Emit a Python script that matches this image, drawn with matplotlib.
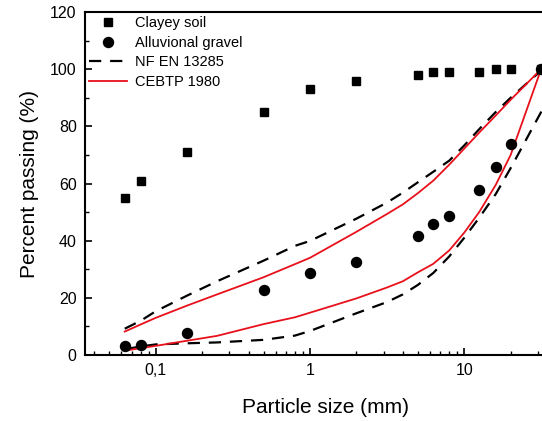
import matplotlib
matplotlib.use("Agg")
import matplotlib.pyplot as plt
from matplotlib.ticker import FixedLocator, NullFormatter, MultipleLocator, LogLocator

plt.rcParams['font.family'] = ['Liberation Sans', 'DejaVu Sans']

# Sieve sizes (mm)
clay_x = [0.063, 0.08, 0.16, 0.5, 1, 2, 5, 6.3, 8, 12.5, 16, 20, 31.5]
clay_y = [55, 61, 71, 85, 93, 96, 98, 99, 99, 99, 100, 100, 100]

grav_x = [0.063, 0.08, 0.16, 0.5, 1, 2, 5, 6.3, 8, 12.5, 16, 20, 31.5]
grav_y = [3.2, 3.6, 7.8, 22.8, 28.8, 32.6, 41.8, 45.8, 48.8, 57.8, 65.8, 73.8, 100]

env_x = [0.063, 0.08, 0.1, 0.16, 0.25, 0.5, 0.8, 1, 2, 3.15, 4, 5, 6.3, 8, 10, 12.5, 16, 20, 31.5]
nf_upper = [9.2, 12, 15.3, 20.8, 25.8, 33, 38.2, 39.9, 47.7, 53.3, 56.8, 60.4, 64.1, 68, 73.3, 79, 85, 90, 99.5]
ce_upper = [8.2, 10.7, 13.0, 17.3, 21.2, 27.2, 31.8, 34.0, 43.1, 49.3, 52.7, 56.6, 61.0, 66.6, 72.2, 77.8, 83.8, 89.3, 100]
ce_lower = [1.5, 2.4, 3.2, 5.0, 6.7, 10.8, 13.2, 14.8, 19.8, 23.6, 25.8, 28.9, 31.9, 36.6, 42.8, 50.0, 59.5, 70.0, 100]
nf_lower_x = [0.063, 0.08, 0.1, 0.16, 0.25, 0.5, 0.8, 1, 2, 3.15, 4, 5, 6.3, 8, 10, 12.5, 16, 20, 31.5, 45]
nf_lower = [2.0, 3.0, 3.7, 4.1, 4.4, 5.3, 6.8, 8.4, 14.6, 18.5, 21.2, 24.5, 28.7, 34.5, 41, 48, 56.3, 65.4, 85, 100]

xticks = [0.1, 1, 10]
xticklabels = ['0,1', '1', '10']
yticks = [0, 20, 40, 60, 80, 100, 120]

fig = plt.figure(figsize=(5.42, 4.21), dpi=100)
ax = fig.add_axes([85/542, 66/421, 480/542, 343/421])

red = '#e8101a'
ax.plot(clay_x, clay_y, 's', color='black', markersize=6.3, linestyle='none', label='Clayey soil', zorder=5)
ax.plot(grav_x, grav_y, 'o', color='black', markersize=7.2, linestyle='none', label='Alluvional gravel', zorder=5)
ax.plot(env_x, nf_upper, color='black', linewidth=1.6, dashes=(5.5, 4), label='NF EN 13285', zorder=3)
ax.plot(nf_lower_x, nf_lower, color='black', linewidth=1.6, dashes=(5.5, 4), zorder=3)
ax.plot(env_x, ce_upper, color=red, linewidth=1.3, label='CEBTP 1980', zorder=4)
ax.plot(env_x, ce_lower, color=red, linewidth=1.3, zorder=4)

ax.set_xscale('log')
ax.set_xlim(0.0348, 45)
ax.set_ylim(0, 120)

ax.xaxis.set_major_locator(FixedLocator(xticks))
ax.set_xticklabels(xticklabels)
ax.xaxis.set_minor_locator(LogLocator(base=10, subs=(2, 3, 4, 5, 6, 7, 8, 9)))
ax.xaxis.set_minor_formatter(NullFormatter())
ax.yaxis.set_major_locator(FixedLocator(yticks))
ax.yaxis.set_minor_locator(MultipleLocator(10))

ax.tick_params(axis='both', which='major', direction='in', length=5, width=1.2, labelsize=11.5, pad=6)
ax.tick_params(axis='both', which='minor', direction='in', length=3, width=1.0)
ax.tick_params(top=False, right=False, which='both')

for s in ax.spines.values():
    s.set_linewidth(1.5)

ax.set_xlabel('Particle size (mm)', fontsize=15, labelpad=14)
ax.set_ylabel('Percent passing (%)', fontsize=15, labelpad=8)

leg = ax.legend(loc='upper left', bbox_to_anchor=(0.0, 1.0), frameon=False, fontsize=10.5,
                handlelength=2.6, handletextpad=0.5, labelspacing=0.38, borderpad=0.2,
                borderaxespad=0.1)

fig.savefig('out.png', dpi=100)
